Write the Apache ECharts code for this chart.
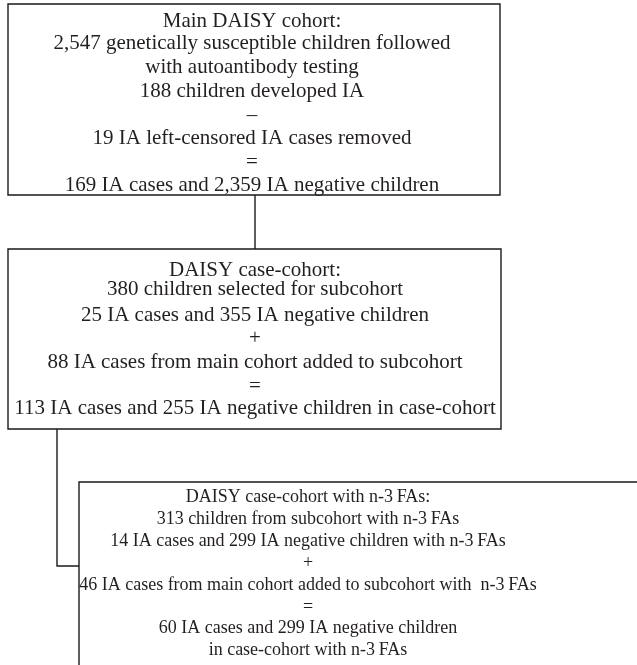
<!DOCTYPE html>
<html>
<head>
<meta charset="utf-8">
<script src="https://cdn.jsdelivr.net/npm/echarts@6/dist/echarts.min.js"></script>
<style>
  html, body { margin: 0; padding: 0; background: #fff; }
  #main { width: 637px; height: 665px; }
</style>
</head>
<body>
<div id="main"></div>
<script>
// box texts (one entry per printed line)
var mainCohortLines = [
  'Main DAISY cohort:',
  '2,547 genetically susceptible children followed',
  'with autoantibody testing',
  '188 children developed IA',
  '\u2013',
  '19 IA left-censored IA cases removed',
  '=',
  '169 IA cases and 2,359 IA negative children'
]
var caseCohortLines = [
  'DAISY case-cohort:',
  '380 children selected for subcohort',
  '25 IA cases and 355 IA negative children',
  '+',
  '88 IA cases from main cohort added to subcohort',
  '=',
  '113 IA cases and 255 IA negative children in case-cohort'
]
var fattyAcidLines = [
  'DAISY case-cohort with n-3\u2009FAs:',
  '313 children from subcohort with n-3\u2009FAs',
  '14 IA cases and 299 IA negative children with n-3\u2009FAs',
  '+',
  '46 IA cases from main cohort added to subcohort with  n-3\u2009FAs',
  '=',
  '60 IA cases and 299 IA negative children',
  'in case-cohort with n-3\u2009FAs'
]

var chart = echarts.init(document.getElementById('main'))

var font = 'Liberation Serif'
var stroke = '#1a1a1a'
var lw = 1.4

// layout of the three boxes
var boxes = [
  { x: 8, y: 4, w: 492, h: 191, cx: 252, size: 21, lines: mainCohortLines,
    ys: [21, 43, 67, 91, 115, 138, 162, 185] },
  { x: 8, y: 249, w: 493, h: 180, cx: 255, size: 21, lines: caseCohortLines,
    ys: [270, 289, 315, 338, 362, 386, 408] },
  { x: 79, y: 482, w: 600, h: 220, cx: 308, size: 18, lines: fattyAcidLines,
    ys: [497, 519, 541, 563, 585, 607, 628, 650] }
]

var elements = []
boxes.forEach(function (b) {
  elements.push({
    type: 'rect',
    shape: { x: b.x, y: b.y, width: b.w, height: b.h },
    style: { fill: '#fff', stroke: stroke, lineWidth: lw }
  })
  for (var i = 0; i < b.lines.length; i++) {
    elements.push({
      type: 'text',
      x: b.cx,
      y: b.ys[i],
      style: {
        text: b.lines[i],
        font: b.size + 'px "' + font + '", serif',
        fill: '#231f20',
        align: 'center',
        verticalAlign: 'middle'
      }
    })
  }
})

// connectors
elements.push({
  type: 'polyline',
  shape: { points: [[255, 195], [255, 249]] },
  style: { stroke: stroke, lineWidth: lw, fill: null }
})
elements.push({
  type: 'polyline',
  shape: { points: [[57, 429], [57, 566], [79, 566]] },
  style: { stroke: stroke, lineWidth: lw, fill: null }
})

chart.setOption({
  backgroundColor: '#fff',
  animation: false,
  graphic: { elements: elements }
})
</script>
</body>
</html>
